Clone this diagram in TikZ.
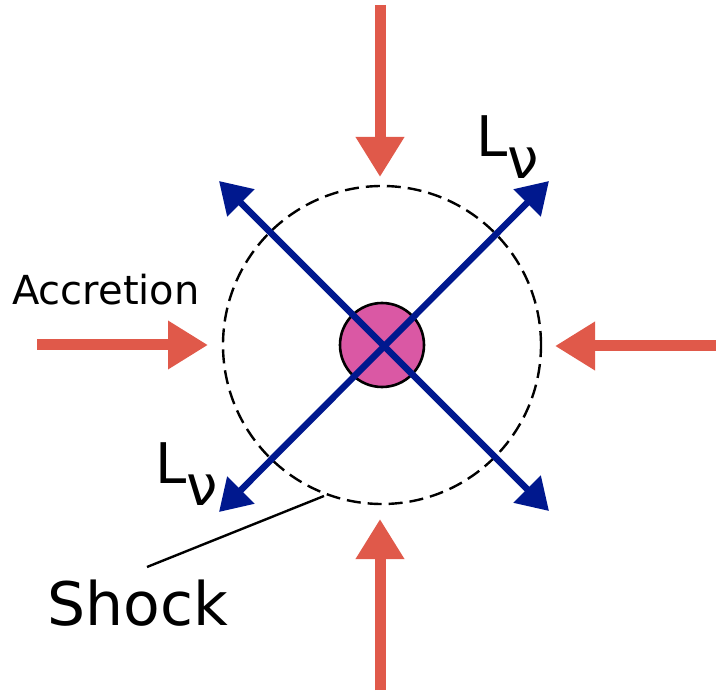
\documentclass[tikz,border=0pt]{standalone}
\usepackage{fontspec}
\setmainfont{DejaVu Sans}
\usetikzlibrary{arrows.meta}
\definecolor{accred}{RGB}{224,89,74}
\definecolor{lumblue}{RGB}{0,24,142}
\definecolor{corepink}{RGB}{218,88,164}
\tikzset{
  accarrow/.style={draw=accred, line width=11pt, -{Triangle[length=40pt,width=46pt,fill=accred]}},
  lumarrow/.style={draw=lumblue, line width=6.5pt, {Triangle[length=31pt,width=37pt]}-{Triangle[length=31pt,width=37pt]}},
  lbl/.style={inner sep=0pt, anchor=base west},
}
\begin{document}
\begin{tikzpicture}[x=1pt,y=-1pt]
\useasboundingbox (0,0) rectangle (716,695);
\coordinate (c) at (382,345);
% shock
\node[draw, dash pattern=on 14pt off 7pt, line width=2.4pt, circle, minimum size=318pt, inner sep=0pt] (shock) at (c) {};
% core
\node[draw=black, line width=2.6pt, fill=corepink, circle, minimum size=84pt, inner sep=0pt] (core) at (c) {};
% neutrino luminosity arrows
\coordinate (ul) at (219,181);
\coordinate (lr) at (549,511);
\coordinate (ll) at (219,512);
\coordinate (ur) at (549,181);
\draw[lumarrow] (ul) -- (lr);
\draw[lumarrow] (ll) -- (ur);
% accretion arrows
\coordinate (ts) at (380,5);   \coordinate (tt) at (380,177);
\coordinate (bs) at (380,690); \coordinate (bt) at (380,519);
\coordinate (ls) at (37,345);  \coordinate (lt) at (208,345);
\coordinate (rs) at (716,346); \coordinate (rt) at (555,346);
\draw[accarrow] (ts) -- (tt);
\draw[accarrow] (bs) -- (bt);
\draw[accarrow] (ls) -- (lt);
\draw[accarrow] (rs) -- (rt);
% labels
\node[lbl, font=\fontsize{40}{48}\selectfont] (acc) at (12,305) {Accretion};
\node[lbl, font=\fontsize{56}{66}\selectfont] (lnu1) at (476,157) {L\raisebox{-22pt}{ν}};
\node[lbl, font=\fontsize{56}{66}\selectfont] (lnu2) at (155,483) {L\raisebox{-22pt}{ν}};
\node[lbl, font=\fontsize{60}{72}\selectfont] (shk) at (47,625) {Shock};
\coordinate (leaderend) at (324,496);
\draw[line width=2.4pt] (147,567) -- (leaderend);
\end{tikzpicture}
\end{document}
